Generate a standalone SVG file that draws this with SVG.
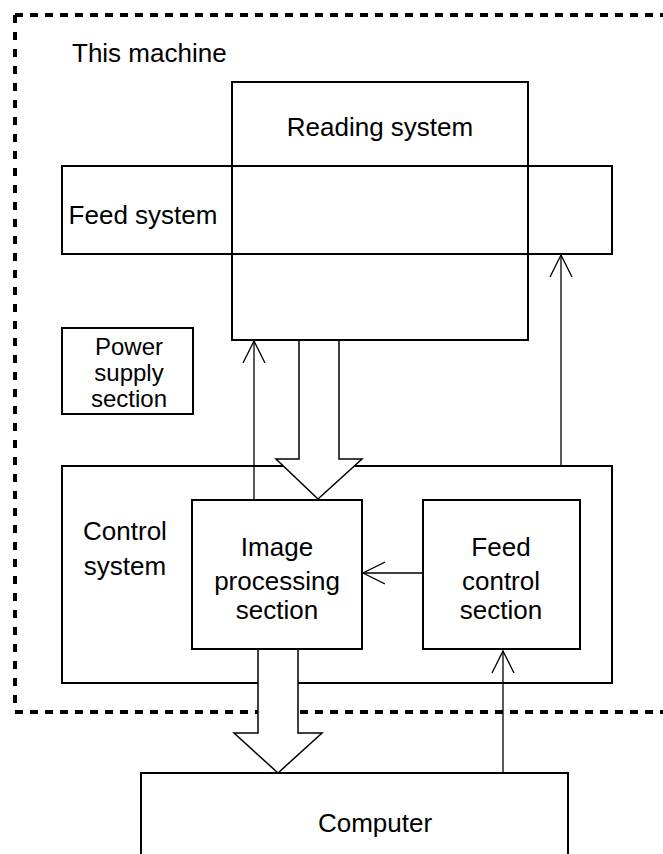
<svg xmlns="http://www.w3.org/2000/svg" width="663" height="854" viewBox="0 0 663 854">
<style>
.box{fill:#fff;stroke:#000;stroke-width:2}
.t{font-family:"Liberation Sans",Arial,sans-serif;font-size:26px;fill:#000;text-anchor:middle}
.s{font-size:24px}
.ln{fill:none;stroke:#000;stroke-width:1.3}
.big{fill:#fff;stroke:#000;stroke-width:1.5;stroke-linejoin:miter}
.dash{fill:none;stroke:#000;stroke-width:4}
</style>
<defs>
<marker id="ah" viewBox="0 0 24 24" refX="22" refY="12" markerWidth="24" markerHeight="24" markerUnits="userSpaceOnUse" orient="auto">
<path d="M0,1 L22,12 L0,23" fill="none" stroke="#000" stroke-width="1.3"/>
</marker>
</defs>
<g id="boundary">
<line class="dash" x1="15" y1="15" x2="663" y2="15" stroke-dasharray="8 7"/>
<line class="dash" x1="15" y1="15" x2="15" y2="712" stroke-dasharray="8 9"/>
<line class="dash" x1="15" y1="712" x2="663" y2="712" stroke-dasharray="8 7"/>
<text class="t" x="72" y="62" style="text-anchor:start">This machine</text>
</g>
<g id="reading">
<rect class="box" x="232" y="82" width="296" height="258"/>
<text class="t" x="380" y="136">Reading system</text>
</g>
<g id="feed">
<rect class="box" x="62" y="166" width="550" height="88" style="fill:none"/>
<text class="t" x="143" y="224">Feed system</text>
</g>
<g id="power">
<rect class="box" x="62" y="328" width="131" height="86"/>
<text class="t s" x="129" y="355">Power</text>
<text class="t s" x="129" y="381">supply</text>
<text class="t s" x="129" y="407">section</text>
</g>
<g id="control">
<rect class="box" x="62" y="466" width="550" height="217"/>
<text class="t" x="125" y="540">Control</text>
<text class="t" x="125" y="575">system</text>
</g>
<g id="computer">
<rect class="box" x="141" y="773" width="427" height="100"/>
<text class="t" x="375" y="832">Computer</text>
</g>
<g id="connectors">
<line class="ln" x1="254" y1="500" x2="254" y2="341" marker-end="url(#ah)"/>
<line class="ln" x1="561" y1="466" x2="561" y2="255" marker-end="url(#ah)"/>
<line class="ln" x1="423" y1="573" x2="363" y2="573" marker-end="url(#ah)"/>
<line class="ln" x1="503" y1="773" x2="503" y2="651" marker-end="url(#ah)"/>
<path class="big" d="M299,341 L299,459 L276,459 L318,499 L362,459 L339,459 L339,341"/>
<path class="big" d="M258,649 L258,733 L234,733 L278,773 L322,733 L298,733 L298,649"/>
</g>
<g id="imageproc">
<rect class="box" x="192" y="500" width="170" height="149"/>
<text class="t" x="277" y="556">Image</text>
<text class="t" x="277" y="590">processing</text>
<text class="t" x="277" y="619">section</text>
</g>
<g id="feedctrl">
<rect class="box" x="423" y="500" width="157" height="149"/>
<text class="t" x="501" y="556">Feed</text>
<text class="t" x="501" y="590">control</text>
<text class="t" x="501" y="619">section</text>
</g>
</svg>
